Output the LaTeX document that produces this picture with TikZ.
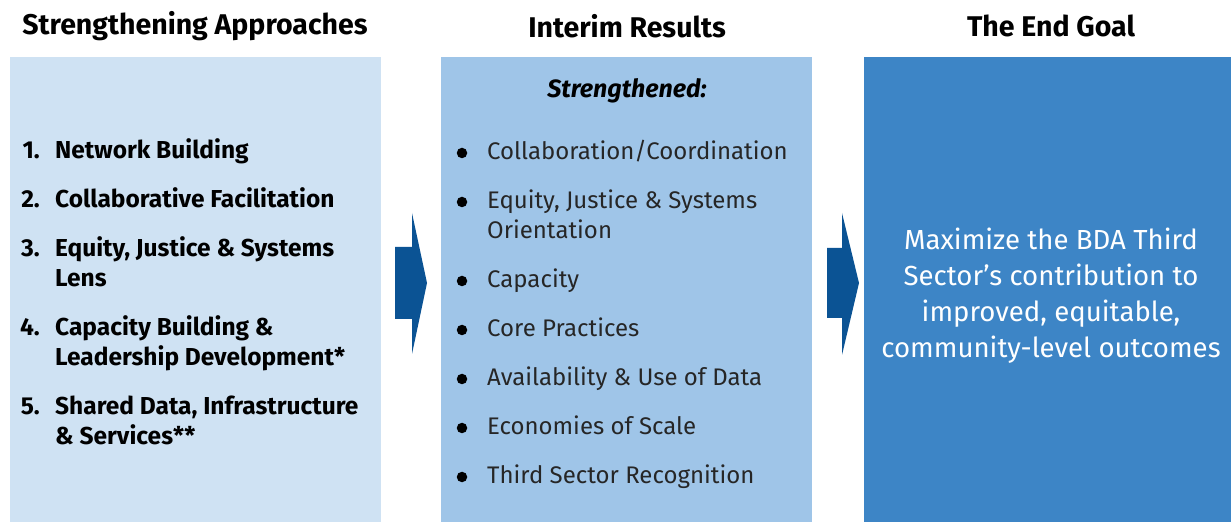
\documentclass[tikz,border=0pt]{standalone}
\usepackage{fontspec}
\setmainfont{Fira Sans}
\definecolor{paleblue}{HTML}{CFE2F3}
\definecolor{midblue}{HTML}{9FC5E8}
\definecolor{goalblue}{HTML}{3D85C6}
\definecolor{arrowblue}{HTML}{0B5394}
\definecolor{ink}{HTML}{262626}
\begin{document}
\begin{tikzpicture}[x=1pt,y=1pt,
  panel/.style={anchor=north west,inner sep=0pt,outer sep=0pt},
  header/.style={font=\fontsize{28.5}{32}\selectfont\bfseries,anchor=center},
  num/.style={anchor=base east,inner sep=0pt,font=\fontsize{24.5}{30}\selectfont\bfseries},
  itemtext/.style={anchor=base west,inner sep=0pt,align=left,font=\fontsize{24.5}{30}\selectfont\bfseries},
  bullettext/.style={anchor=base west,inner sep=0pt,align=left,text=ink,font=\fontsize{24}{30}\selectfont},
  dot/.style={circle,fill=black,inner sep=0pt,minimum size=10.5pt},
  blockarrow/.style={fill=arrowblue,draw=none}]
\useasboundingbox (0,0) rectangle (1231,522);
% three columns
\node[panel,fill=paleblue,minimum width=371pt,minimum height=465pt] (approach) at (10,465) {};
\node[panel,fill=midblue,minimum width=371pt,minimum height=465pt] (interim) at (441,465) {};
\node[panel,fill=goalblue,minimum width=367pt,minimum height=465pt] (goal) at (864,465) {};
% column titles
\node[header] (h1) at (195,496) {Strengthening Approaches};
\node[header] (h2) at (627,496) {Interim Results};
\node[header] (h3) at (1051,496) {The End Goal};
% numbered approaches (baseline of the first line of each item)
\foreach \n/\y in {1/363,2/314,3/265,4/186,5/107}{
  \node[num] (n\n) at (40,\y) {\n.};
}
\node[itemtext] (a1) at (55,363) {Network Building};
\node[itemtext] (a2) at (55,314) {Collaborative Facilitation};
\node[itemtext] (a3) at (55,235) {Equity, Justice \& Systems\\Lens};
\node[itemtext] (a4) at (55,156) {Capacity Building \&\\Leadership Development*};
\node[itemtext] (a5) at (55,77) {Shared Data, Infrastructure\\\& Services**};
% interim results
\node[font=\fontsize{25}{28}\selectfont\bfseries\itshape] (strong) at (627,431) {Strengthened:};
\foreach \k/\y/\t in {1/362/{Collaboration/Coordination},
                      2/283/{Equity, Justice \& Systems\\Orientation},
                      3/234/{Capacity},
                      4/185/{Core Practices},
                      5/136/{Availability \& Use of Data},
                      6/87/{Economies of Scale},
                      7/38/{Third Sector Recognition}}{
  \node[bullettext] (b\k) at (487,\y) {\t};
}
% bullet marks, level with the first line of each entry
\foreach \k/\y in {1/362,2/313,3/234,4/185,5/136,6/87,7/38}{
  \node[dot] (d\k) at (462,\y+7) {};
}
% goal statement
\node[text=white,align=center,font=\fontsize{27.6}{36}\selectfont] (goaltext) at (1051,226) {Maximize the BDA Third\\Sector’s contribution to\\improved, equitable,\\community-level outcomes};
% block arrows between columns
\fill[blockarrow] (395,275) -- (412,275) -- (412,309) -- (427,239) -- (412,168) -- (412,203) -- (395,203) -- cycle;
\fill[blockarrow] (827,274) -- (842,274) -- (842,309) -- (859,239) -- (842,167) -- (842,204) -- (827,204) -- cycle;
\end{tikzpicture}
\end{document}
